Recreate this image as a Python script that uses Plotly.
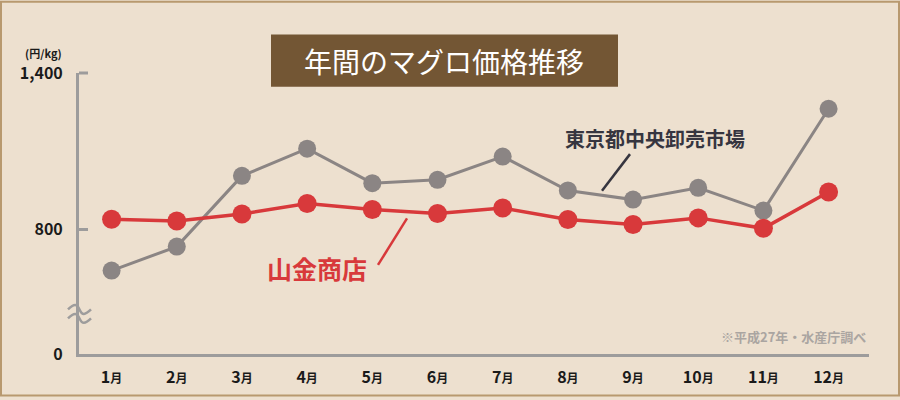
import plotly.graph_objects as go

# ============================================
# DATA - 年間のマグロ価格推移 (円/kg)
# ============================================
months = ['1月', '2月', '3月', '4月', '5月', '6月',
          '7月', '8月', '9月', '10月', '11月', '12月']
tokyo_market = [643, 735, 1006, 1110, 978, 991, 1080, 950, 915, 960, 873, 1263]
yamakin = [840, 833, 860, 900, 877, 862, 883, 839, 820, 845, 805, 944]

y_bottom = 323.6      # axis is broken: bottom of the axis stands for 0
y_ticks = [y_bottom, 800, 1400]
y_ticktext = ['0', '800', '1,400']

colors = {
    'bg': '#ede0cf',
    'border': '#b8996f',
    'title_bg': '#735634',
    'axis': '#9d9c9c',
    'gray': '#8b8584',
    'red': '#d8393b',
    'text': '#1a1a1a',
    'label': '#36353f',
    'note': '#aaa5a1',
}

W, H = 900, 400
L, R, T, B = 79, 31, 73, 43
PW, PH = W - L - R, H - T - B


def px(x):
    return (x - L) / PW


def py(y):
    return (H - B - y) / PH


fig = go.Figure()

fig.add_trace(go.Scatter(
    x=months, y=tokyo_market, name='東京都中央卸売市場',
    mode='lines+markers',
    line=dict(color=colors['gray'], width=3),
    marker=dict(size=18, color=colors['gray']),
))

fig.add_trace(go.Scatter(
    x=months, y=yamakin, name='山金商店',
    mode='lines+markers',
    line=dict(color=colors['red'], width=3.5),
    marker=dict(size=19, color=colors['red']),
))

cjk = 'Noto Sans CJK JP'

fig.update_layout(
    width=W, height=H,
    paper_bgcolor=colors['bg'],
    plot_bgcolor=colors['bg'],
    showlegend=False,
    margin=dict(l=L, r=R, t=T, b=B),
    font=dict(family=cjk, color=colors['text']),
)

fig.update_xaxes(
    type='category',
    range=[-0.5, 11.62],
    showgrid=False, zeroline=False,
    showline=True, linecolor=colors['axis'], linewidth=3,
    ticks='',
    tickvals=months,
    ticktext=[f"<b>{m[:-1]}</b><span style='font-size:12px'><b>月</b></span>" for m in months],
    tickfont=dict(size=16, family=cjk, color=colors['text'], weight=900),
    ticklabelstandoff=7,
)

fig.update_yaxes(
    range=[y_bottom, 1400],
    showgrid=False, zeroline=False,
    showline=True, linecolor=colors['axis'], linewidth=3,
    ticks='inside', ticklen=9, tickwidth=3, tickcolor=colors['axis'],
    tickvals=y_ticks,
    ticktext=[f'<b>{t}</b>' for t in y_ticktext],
    tickfont=dict(size=16, family=cjk, color=colors['text'], weight=900),
    ticklabelstandoff=10,
)

shapes = [
    # frame
    dict(type='rect', xref='paper', yref='paper',
         x0=px(1), x1=px(899), y0=py(399), y1=py(1),
         line=dict(color=colors['border'], width=2), layer='below'),
    # title box
    dict(type='rect', xref='paper', yref='paper',
         x0=px(271), x1=px(618), y0=py(87), y1=py(34),
         fillcolor=colors['title_bg'], line=dict(width=0)),
    # leader lines
    dict(type='line', xref='paper', yref='paper',
         x0=px(630), y0=py(155), x1=px(602), y1=py(192),
         line=dict(color=colors['label'], width=2.5)),
    dict(type='line', xref='paper', yref='paper',
         x0=px(407), y0=py(220), x1=px(378), y1=py(267),
         line=dict(color=colors['red'], width=2.5)),
    # tick at the top of the y axis
    dict(type='line', xref='paper', yref='paper',
         x0=px(79), y0=1, x1=px(88), y1=1,
         line=dict(color=colors['axis'], width=3)),
]

# axis break squiggles
for yc in (312, 321):
    x0, x1 = px(68), px(91)
    ym = py(yc)
    dy = 3 / PH
    xm1, xm2 = px(74), px(85)
    shapes.append(dict(
        type='path', xref='paper', yref='paper',
        path=f'M {x0},{ym} C {xm1},{ym + 2 * dy} {px(77)},{ym + 2 * dy} {px(79.5)},{ym} '
             f'S {xm2},{ym - 2 * dy} {x1},{ym}',
        line=dict(color=colors['axis'], width=2.5)))

fig.update_layout(shapes=shapes)

annotations = [
    dict(text='年間のマグロ価格推移', x=px(444), y=py(61),
         font=dict(size=28, color='white', family=cjk)),
    dict(text='<b>(円/kg)</b>', x=px(43), y=py(53),
         font=dict(size=11, color=colors['text'], family=cjk)),
    dict(text='<b>東京都中央卸売市場</b>', x=px(655), y=py(139),
         font=dict(size=20, color=colors['label'], family=cjk, weight=900)),
    dict(text='<b>山金商店</b>', x=px(317), y=py(270),
         font=dict(size=25, color=colors['red'], family=cjk, weight=900)),
    dict(text='<b>※平成27年・水産庁調べ</b>', x=px(868), y=py(339),
         xanchor='right',
         font=dict(size=13, color=colors['note'], family=cjk)),
]
for a in annotations:
    a.setdefault('xanchor', 'center')
    fig.add_annotation(xref='paper', yref='paper', showarrow=False,
                       yanchor='middle', **a)

# drop the browser's default page margin so the chart fills the window
fig.write_html("out.html", config={'displayModeBar': False},
               post_script="document.body.style.margin='0';")
